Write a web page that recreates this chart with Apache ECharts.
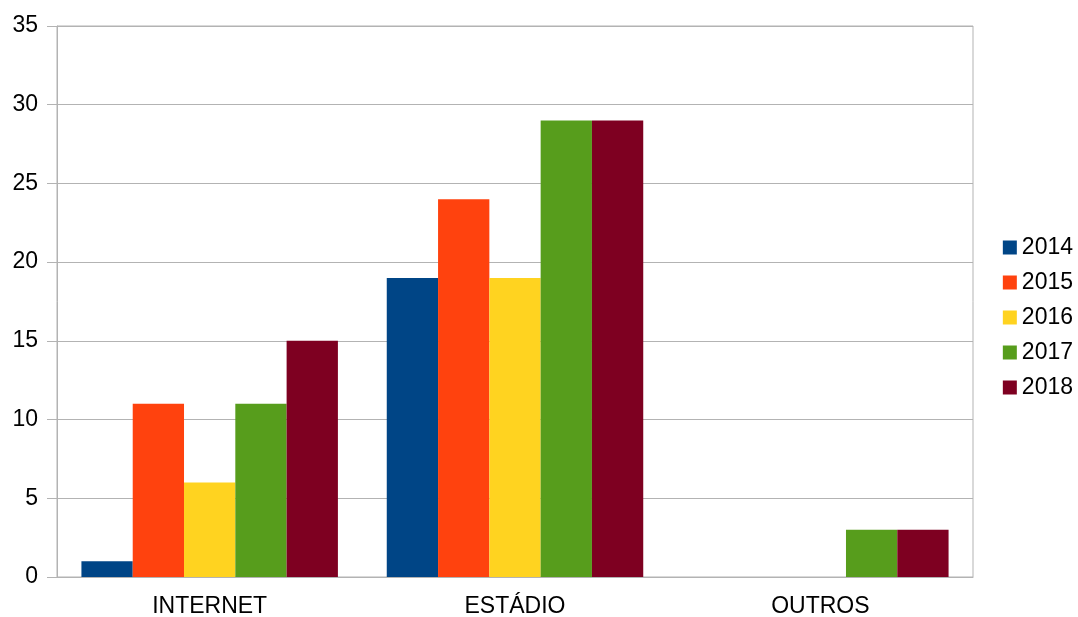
<!DOCTYPE html>
<html><head><meta charset="utf-8">
<script src="https://cdn.jsdelivr.net/npm/echarts@6/dist/echarts.min.js"></script>
<style>html,body{margin:0;padding:0;background:#fff}#c{width:1078px;height:617px}</style>
</head><body><div id="c"></div>
<script>
const categories = ['INTERNET', 'ESTÁDIO', 'OUTROS'];
const years = ['2014', '2015', '2016', '2017', '2018'];
const v2014 = [1, 19, 0];
const v2015 = [11, 24, 0];
const v2016 = [6, 19, 0];
const v2017 = [11, 29, 3];
const v2018 = [15, 29, 3];
const colors = ['#004586', '#ff420e', '#ffd320', '#579d1c', '#7e0021'];
const values = [v2014, v2015, v2016, v2017, v2018];
const font = 'Liberation Sans';
const chart = echarts.init(document.getElementById('c'));
chart.setOption({
  animation: false,
  color: colors,
  textStyle: { fontFamily: font },
  grid: { left: 57, right: 105, top: 26, bottom: 40, show: true, borderColor: '#b3b3b3', borderWidth: 1, outerBoundsMode: 'none' },
  legend: {
    orient: 'vertical', right: 0, top: 231,
    itemWidth: 14, itemHeight: 14, itemGap: 12,
    icon: 'rect',
    textStyle: { fontSize: 23, lineHeight: 23, color: '#000', fontFamily: font },
    data: years
  },
  xAxis: {
    type: 'category', data: categories,
    axisLine: { lineStyle: { color: '#b3b3b3' } },
    axisTick: { length: 10, lineStyle: { color: '#b3b3b3' } },
    axisLabel: { fontSize: 23, lineHeight: 20, color: '#000', margin: 20, fontFamily: font }
  },
  yAxis: {
    type: 'value', min: 0, max: 35, interval: 5,
    axisLine: { show: true, lineStyle: { color: '#b3b3b3' } },
    axisTick: { show: true, length: 10, lineStyle: { color: '#b3b3b3' } },
    splitLine: { lineStyle: { color: '#b3b3b3' } },
    axisLabel: { fontSize: 23, color: '#000', margin: 19, fontFamily: font }
  },
  series: years.map((y, i) => ({
    name: y, type: 'bar', data: values[i],
    barGap: '0%', barCategoryGap: '16%'
  }))
});
</script></body></html>
